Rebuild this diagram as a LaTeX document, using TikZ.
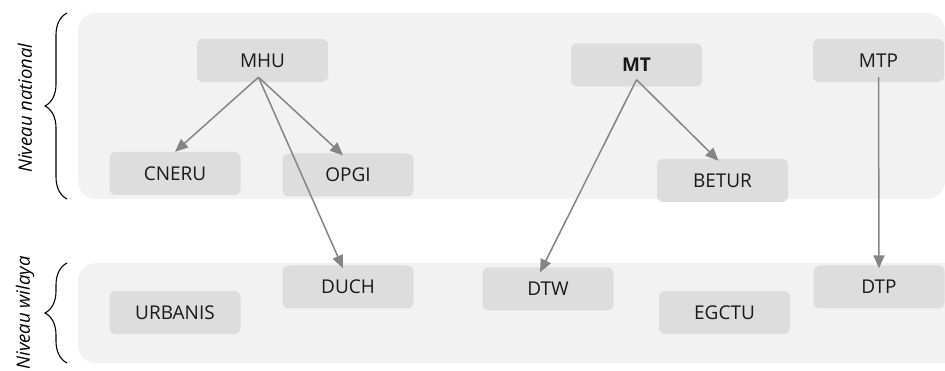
\documentclass[tikz,border=0pt]{standalone}
\usepackage{fontspec}
\setmainfont{Open Sans}
\usetikzlibrary{positioning}
\usetikzlibrary{arrows.meta}
\usetikzlibrary{decorations.pathreplacing}
\definecolor{panelgray}{HTML}{F2F2F2}
\definecolor{boxgray}{HTML}{DDDDDD}
\definecolor{arrowgray}{HTML}{858585}

\begin{document}
\begin{tikzpicture}[x=1pt,y=-1pt,
  panel/.style={fill=panelgray,rounded corners=18pt},
  org/.style={fill=boxgray,rounded corners=6pt,minimum width=131pt,minimum height=43pt,
    inner sep=0pt,text=black!90,font=\fontsize{19}{22}\selectfont},
  link/.style={draw=arrowgray,line width=1.5pt,-{Triangle[length=13pt,width=11pt]}},
  level/.style={rotate=90,font=\fontsize{18.5}{22}\selectfont\itshape},
  brace/.style={decorate,decoration={brace,amplitude=22pt},line width=1.1pt}]
 \clip (0,0) rectangle (945,371);
 \fill[white] (0,0) rectangle (945,371);
 % niveaux
 \fill[panel] (78,13) rectangle (945,199);
 \fill[panel] (78,263) rectangle (975,363);
 \draw[brace] (67,199) -- (67,13);
 \draw[brace] (67,363) -- (67,263);
 \node[level] (natlbl) at (25,108) {Niveau national};
 \node[level] (wlylbl) at (25,313) {Niveau wilaya};
 % national
 \node[org] (mhu) at (262.5,60.5) {MHU};
 \node[org] (cneru) at (175,173.5) {CNERU};
 \node[org] (opgi) at (348,175) {OPGI};
 \node[org] (mt) at (636.5,65) {\bfseries MT};
 \node[org] (betur) at (722.5,180.5) {BETUR};
 \node[org] (mtp) at (878.5,60.5) {MTP};
 % wilaya
 \node[org] (urbanis) at (175,312.5) {URBANIS};
 \node[org] (duch) at (348,287) {DUCH};
 \node[org] (dtw) at (548,289) {DTW};
 \node[org] (egctu) at (724.5,312.5) {EGCTU};
 \node[org] (dtp) at (879,287) {DTP};
 % liens
 \coordinate (mhuout) at ([xshift=-4,yshift=5]mhu.south);
 \coordinate (mtout) at ([yshift=7]mt.south);
 \coordinate (mtpout) at ([yshift=5]mtp.south);
 \draw[link] (mhuout) -- (cneru.north);
 \draw[link] (mhuout) -- ([xshift=-5,yshift=-2]opgi.north);
 \draw[link] (mhuout) -- ([xshift=-5,yshift=-3]duch.north);
 \draw[link] (mtout) -- ([xshift=-4,yshift=-2]betur.north);
 \draw[link] (mtout) -- ([xshift=-8,yshift=-5]dtw.north);
 \draw[link] (mtpout) -- ([yshift=-3]dtp.north);
\end{tikzpicture}
\end{document}
